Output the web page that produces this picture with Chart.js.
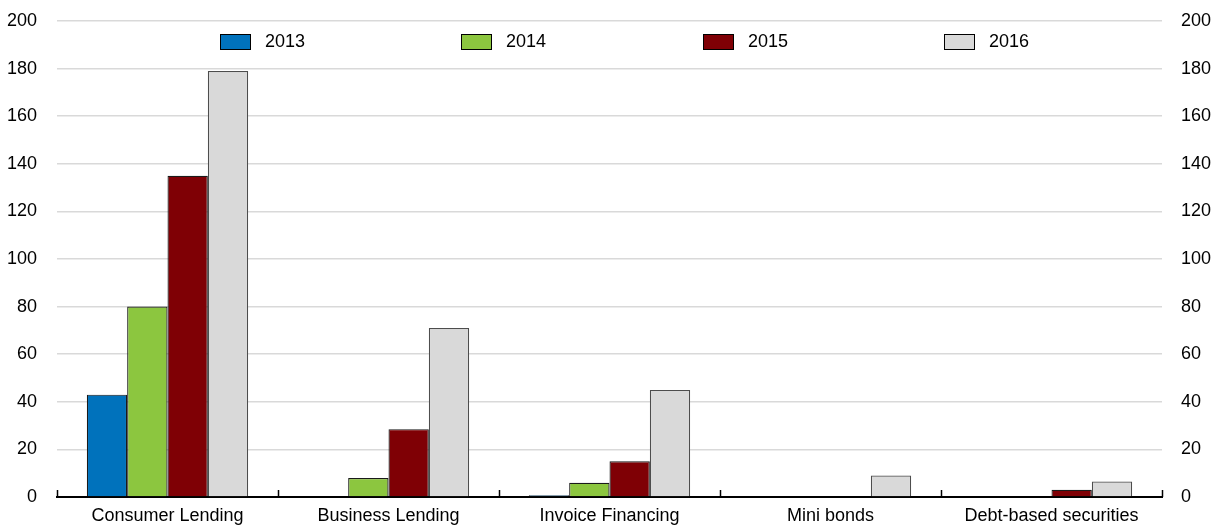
<!DOCTYPE html>
<html>
<head>
<meta charset="utf-8">
<script src="https://cdn.jsdelivr.net/npm/chart.js@4/dist/chart.umd.min.js"></script>
<style>
  html, body { margin: 0; padding: 0; background: #fff; }
  #wrap { width: 1218px; height: 532px; position: relative; }
</style>
</head>
<body>
<div id="wrap"><canvas id="c" width="1218" height="532"></canvas></div>
<script>
const categories = ["Consumer Lending", "Business Lending", "Invoice Financing", "Mini bonds", "Debt-based securities"];
const seriesLabels = ["2013", "2014", "2015", "2016"];
const values2013 = [43, 0.3, 0.7, 0, 0];
const values2014 = [80, 8, 6, 0, 0];
const values2015 = [135, 28.5, 15, 0, 3];
const values2016 = [179, 71, 45, 9, 6.5];
const yTicks = [0, 20, 40, 60, 80, 100, 120, 140, 160, 180, 200];

const colors = ["#0072BC", "#8CC63F", "#7F0005", "#D9D9D9"];
const borders = ["#1a1a1a", "#1a1a1a", "#1a1a1a", "#4d4d4d"];
const allValues = [values2013, values2014, values2015, values2016];

const FONT = "'Liberation Sans', Arial, sans-serif";

const legendPlugin = {
  id: 'customLegend',
  afterDraw(chart) {
    const ctx = chart.ctx;
    const ca = chart.chartArea;
    const offsets = [163, 404, 646, 887];
    ctx.save();
    chart.data.datasets.forEach((ds, i) => {
      const x = ca.left + offsets[i];
      const y = 34;
      ctx.fillStyle = ds.backgroundColor;
      ctx.fillRect(x, y, 31, 16);
      ctx.strokeStyle = "#000";
      ctx.lineWidth = 1;
      ctx.strokeRect(x + 0.5, y + 0.5, 30, 15);
      ctx.fillStyle = "#000";
      ctx.font = "18px " + FONT;
      ctx.textBaseline = "middle";
      ctx.textAlign = "left";
      ctx.fillText(ds.label, x + 45, y + 8);
    });
    ctx.restore();
  }
};

const tickMarkPlugin = {
  id: 'catTicks',
  afterDatasetsDraw(chart) {
    const x = chart.scales.x;
    const ctx = chart.ctx;
    const n = chart.data.labels.length;
    const w = (x.right - x.left) / n;
    ctx.save();
    ctx.strokeStyle = "#000";
    ctx.lineWidth = 1.5;
    for (let i = 0; i <= n; i++) {
      const px = Math.round(x.left + i * w) + 0.5;
      ctx.beginPath();
      ctx.moveTo(px, x.top);
      ctx.lineTo(px, x.top - 7);
      ctx.stroke();
    }
    ctx.restore();
  }
};

function fixVertical(width) {
  return function (s) {
    s.width = width;
    s.paddingTop = 10;
    s.paddingBottom = 10;
  };
}

new Chart(document.getElementById('c'), {
  type: 'bar',
  data: {
    labels: categories,
    datasets: seriesLabels.map((lab, i) => ({
      label: lab,
      data: allValues[i],
      backgroundColor: colors[i],
      borderColor: borders[i],
      borderWidth: 1.2,
      borderSkipped: 'bottom',
      categoryPercentage: 0.73,
      barPercentage: 1.0,
      yAxisID: 'y'
    }))
  },
  options: {
    responsive: false,
    animation: false,
    layout: { padding: { top: 21, left: 0, right: 0, bottom: 0 } },
    plugins: {
      legend: { display: false },
      tooltip: { enabled: false }
    },
    scales: {
      x: {
        offset: true,
        grid: { display: false, drawTicks: false },
        border: { display: true, color: "#000", width: 2 },
        ticks: { color: "#000", font: { family: FONT, size: 18 }, padding: 8, maxRotation: 0, autoSkip: false },
        afterFit(s) { s.height = 35; }
      },
      y: {
        position: 'left',
        min: 0, max: 200,
        afterBuildTicks(s) { s.ticks = yTicks.map(v => ({ value: v })); },
        grid: { color: "#d9d9d9", lineWidth: 1.5, drawTicks: false },
        border: { display: false },
        ticks: { color: "#000", font: { family: FONT, size: 18 }, padding: 20 },
        afterFit: fixVertical(57)
      },
      y2: {
        position: 'right',
        min: 0, max: 200,
        afterBuildTicks(s) { s.ticks = yTicks.map(v => ({ value: v })); },
        grid: { display: false, drawTicks: false },
        border: { display: false },
        ticks: { color: "#000", font: { family: FONT, size: 18 }, padding: 19 },
        afterFit: fixVertical(56)
      }
    }
  },
  plugins: [legendPlugin, tickMarkPlugin]
});
</script>
</body>
</html>
